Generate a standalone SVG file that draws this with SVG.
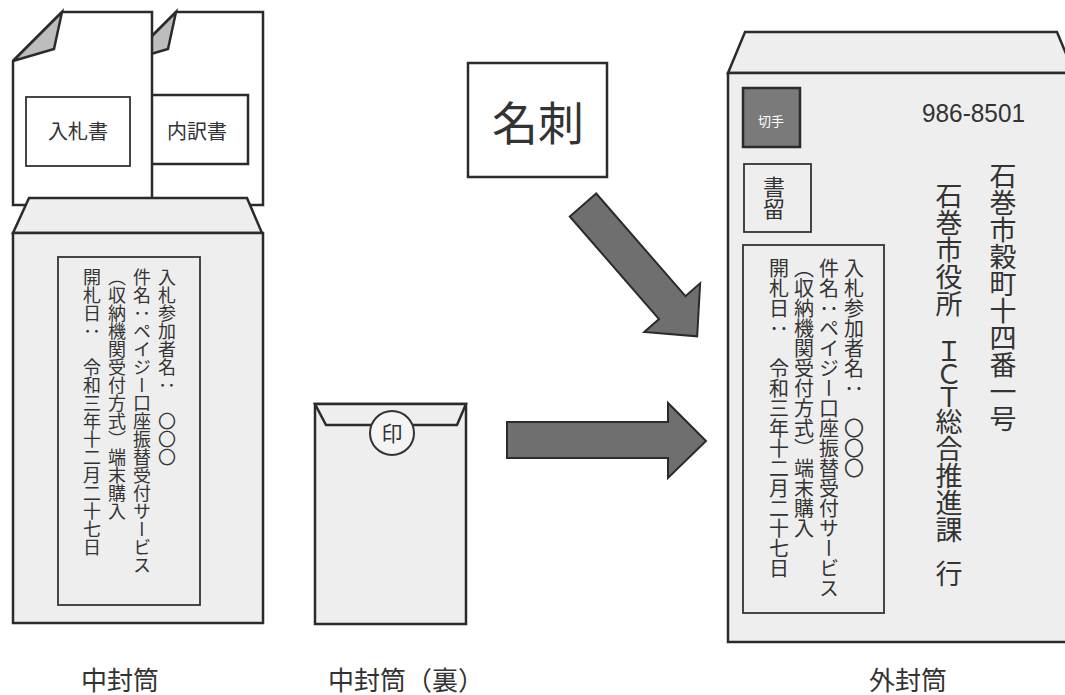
<svg xmlns="http://www.w3.org/2000/svg" width="1065" height="695" viewBox="0 0 1065 695">
<style>
.ln{stroke:#2b2b2b;stroke-width:2.5;stroke-linejoin:miter}
.thin{stroke:#333;stroke-width:1.8;fill:none}
.doc{fill:#ffffff}
.fold{fill:#bdbdbd}
.env{fill:#eeeeee}
.arrow{fill:#6f6f6f;stroke:#2b2b2b;stroke-width:2}
.t{font-family:"Noto Sans CJK JP","Noto Sans",sans-serif;fill:#333}
.v{writing-mode:vertical-rl}
</style>
<rect width="1065" height="695" fill="#ffffff"/>

<g id="inner-envelope">
  <g id="doc-uchiwake">
    <polygon class="doc ln" points="127,61 176,12 263,12 263,205 127,205"/>
    <polygon class="fold ln" points="127,61 176,12 168,49"/>
    <rect class="doc ln" x="140" y="95" width="108" height="69" stroke-width="2"/>
    <text class="t" x="197" y="139" font-size="20" text-anchor="middle">内訳書</text>
  </g>
  <g id="doc-nyusatsu">
    <polygon class="doc ln" points="13,61 62,12 152,12 152,205 13,205"/>
    <polygon class="fold ln" points="13,61 62,12 54,49"/>
    <rect class="thin" x="26" y="97" width="104" height="69"/>
    <text class="t" x="78" y="139" font-size="20" text-anchor="middle">入札書</text>
  </g>
  <polygon class="env ln" points="29,198 247,198 262,233 13,233"/>
  <rect class="env ln" x="13" y="233" width="250" height="390"/>
  <rect class="thin" x="58" y="257" width="142" height="348"/>
  <g class="t" font-size="18">
    <text class="v" x="167" y="268">入札参加者名：　〇〇〇</text>
    <text class="v" x="142" y="268">件名：ペイジー口座振替受付サービス</text>
    <text class="v" x="117" y="268">（収納機関受付方式）端末購入</text>
    <text class="v" x="92" y="268">開札日：　令和三年十二月二十七日</text>
  </g>
  <text class="t" x="120" y="690" font-size="26" text-anchor="middle">中封筒</text>
</g>

<g id="inner-envelope-back">
  <rect class="env ln" x="315" y="404" width="151" height="220"/>
  <polygon class="env ln" points="315,404 466,404 457,425 326,425"/>
  <circle cx="392" cy="433" r="22" fill="#f4f4f4" stroke="#333" stroke-width="2"/>
  <text class="t" x="392" y="441" font-size="21" text-anchor="middle">印</text>
  <text class="t" x="328" y="690" font-size="26">中封筒（裏）</text>
</g>

<g id="meishi">
  <rect class="doc ln" x="468" y="63" width="139" height="114" stroke-width="2"/>
  <text class="t" x="538" y="140" font-size="46" text-anchor="middle">名刺</text>
</g>

<g id="outer-envelope">
  <polygon class="env ln" points="745,32 1057,32 1074,73 728,73"/>
  <rect class="env ln" x="728" y="73" width="346" height="569"/>
  <rect x="743" y="88" width="57" height="59" fill="#7a7a7a" stroke="#2b2b2b" stroke-width="2.5"/>
  <text x="771" y="126" font-size="13" text-anchor="middle" font-family="Noto Sans CJK JP, sans-serif" fill="#ffffff">切手</text>
  <rect class="thin" x="744" y="164" width="67" height="68"/>
  <text class="t v" x="774" y="176" font-size="22">書留</text>
  <text x="922" y="122" font-size="25" font-family="Liberation Sans, Arial, sans-serif" fill="#333" textLength="103" lengthAdjust="spacingAndGlyphs">986-8501</text>
  <text class="t v" x="1003" y="162" font-size="27">石巻市穀町十四番一号</text>
  <text class="t v" x="949" font-size="27"><tspan y="182">石巻市役所</tspan><tspan y="338" letter-spacing="-4">ＩＣＴ</tspan><tspan y="408">総合推進課</tspan><tspan y="560">行</tspan></text>
  <rect class="thin" x="743" y="245" width="141" height="368"/>
  <g class="t" font-size="20">
    <text class="v" x="854" y="258">入札参加者名：　〇〇〇</text>
    <text class="v" x="829" y="258">件名：ペイジー口座振替受付サービス</text>
    <text class="v" x="804" y="258">（収納機関受付方式）端末購入</text>
    <text class="v" x="779" y="258">開札日：　令和三年十二月二十七日</text>
  </g>
  <text class="t" x="908" y="690" font-size="26" text-anchor="middle">外封筒</text>
</g>

<g id="connectors">
  <polygon class="arrow" transform="translate(583,205) rotate(49)" points="0,-17.5 136,-17.5 136,-37 174,0 136,37 136,17.5 0,17.5"/>
  <polygon class="arrow" points="507,422 668,422 668,403 706,441 668,478 668,458 507,458"/>
</g>
</svg>
